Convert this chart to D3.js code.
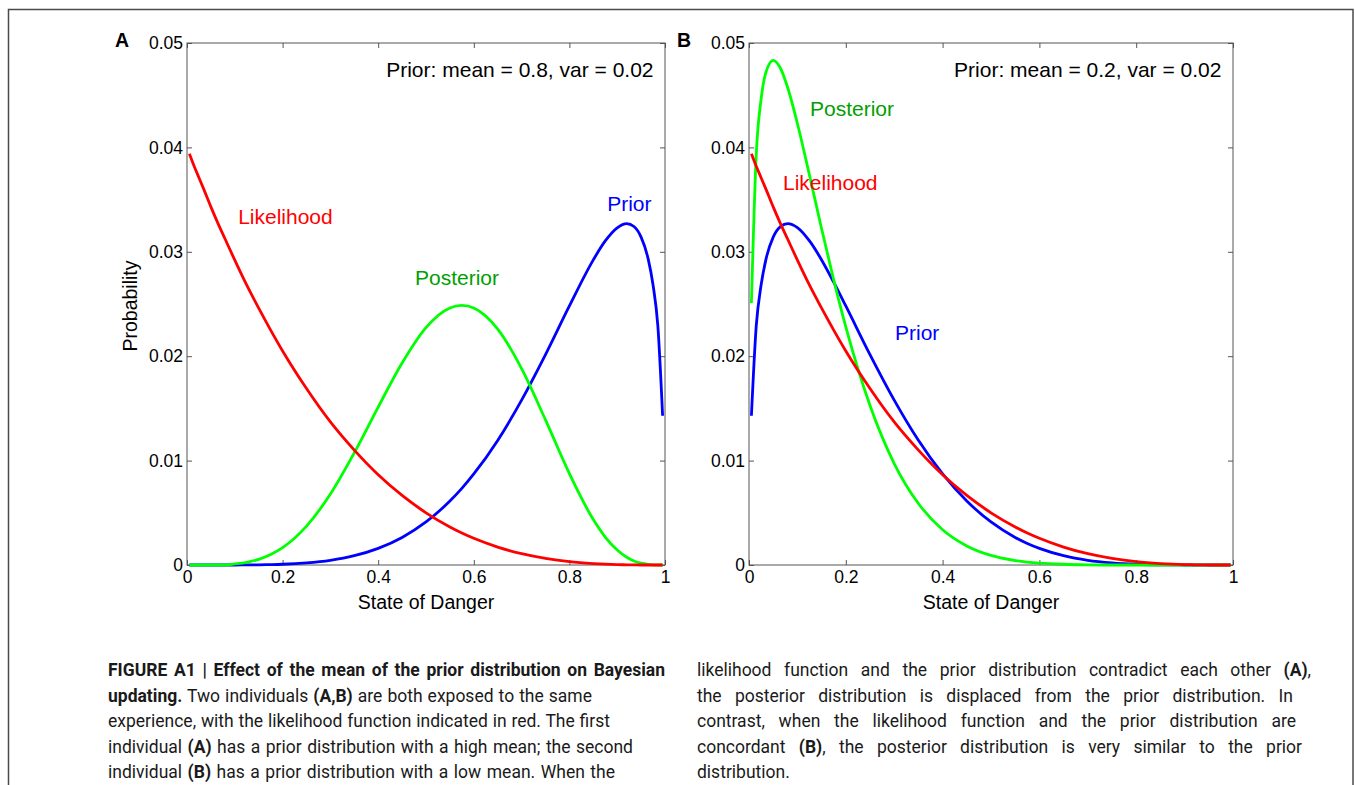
<!DOCTYPE html>
<html><head><meta charset="utf-8">
<script src="https://cdn.jsdelivr.net/npm/d3@7"></script>
<style>
html,body{margin:0;padding:0;background:#fff;}
svg{display:block;}
text{white-space:pre;}
</style></head>
<body>
<svg id="c" width="1355" height="785"></svg>
<script>
// ---- data ----
const xGrid = [0.005, 0.015, 0.025, 0.035, 0.05, 0.065, 0.08, 0.1, 0.125, 0.15, 0.175, 0.2, 0.25, 0.3, 0.35, 0.4, 0.45, 0.5, 0.55, 0.575, 0.6, 0.65, 0.7, 0.75, 0.8, 0.85, 0.875, 0.9, 0.92, 0.935, 0.95, 0.965, 0.975, 0.985, 0.995];

const likelihood = [0.0394, 0.0382, 0.0371, 0.0360, 0.0343, 0.0327, 0.0312, 0.0292, 0.0268, 0.0246, 0.0225, 0.0205, 0.0169, 0.0137, 0.0110, 0.00864, 0.00666, 0.0050, 0.00365, 0.00307, 0.00256, 0.00172, 0.00108, 0.00063, 0.00032, 0.00014, 0.00008, 0.00004, 0.00002, 0.00001, 0, 0, 0, 0, 0];

const priorA = [0, 0, 0, 0, 0, 0, 0, 0, 0.00001, 0.00002, 0.00004, 0.00007, 0.0002, 0.00045, 0.00089, 0.00159, 0.00264, 0.00412, 0.00613, 0.00734, 0.00872, 0.01193, 0.01579, 0.02015, 0.02481, 0.02923, 0.03104, 0.0323, 0.0327, 0.03242, 0.0314, 0.02927, 0.02682, 0.02292, 0.0143];

const posteriorA = [0, 0, 0, 0, 0, 0, 0, 0.0001, 0.00026, 0.00054, 0.0010, 0.00166, 0.00372, 0.0068, 0.01075, 0.01513, 0.01935, 0.02274, 0.02462, 0.02486, 0.02461, 0.02259, 0.01881, 0.0139, 0.00876, 0.00435, 0.00268, 0.00143, 0.00074, 0.00039, 0.00017, 0.00006, 0.00002, 0, 0];

const priorB = [0.0143, 0.02292, 0.02682, 0.02927, 0.03141, 0.03242, 0.0327, 0.03232, 0.03104, 0.02922, 0.02709, 0.02481, 0.02015, 0.01579, 0.01194, 0.00872, 0.00613, 0.00412, 0.00264, 0.00206, 0.00159, 0.00089, 0.00045, 0.0002, 0.00007, 0.00002, 0.00001, 0, 0, 0, 0, 0, 0, 0, 0];

const posteriorB = [0.0251, 0.03933, 0.04462, 0.0472, 0.04834, 0.04758, 0.04571, 0.04229, 0.03733, 0.03221, 0.02731, 0.0228, 0.01527, 0.00972, 0.00589, 0.00338, 0.00183, 0.00092, 0.00043, 0.00028, 0.00018, 0.00007, 0.00002, 0, 0, 0, 0, 0, 0, 0, 0, 0, 0, 0, 0];

const xTicks = [0, 0.2, 0.4, 0.6, 0.8, 1];
const xTickLabels = ["0", "0.2", "0.4", "0.6", "0.8", "1"];
const yTicks = [0, 0.01, 0.02, 0.03, 0.04, 0.05];
const yTickLabels = ["0", "0.01", "0.02", "0.03", "0.04", "0.05"];

const captionLeft = [
  [["FIGURE A1 | Effect of the mean of the prior distribution on Bayesian", true]],
  [["updating.", true], [" Two individuals ", false], ["(A,B)", true], [" are both exposed to the same", false]],
  [["experience, with the likelihood function indicated in red. The first", false]],
  [["individual ", false], ["(A)", true], [" has a prior distribution with a high mean; the second", false]],
  [["individual ", false], ["(B)", true], [" has a prior distribution with a low mean. When the", false]]
];
const captionRight = [
  [["likelihood function and the prior distribution contradict each other ", false], ["(A)", true], [",", false]],
  [["the posterior distribution is displaced from the prior distribution. In", false]],
  [["contrast, when the likelihood function and the prior distribution are", false]],
  [["concordant ", false], ["(B)", true], [", the posterior distribution is very similar to the prior", false]],
  [["distribution.", false]]
];

// ---- layout ----
const W = 1355, H = 785;
const plotTop = 43, plotBottom = 565;
const FONT = "'Liberation Sans', Arial, Helvetica, sans-serif";
const COL = {red: "#ff0000", blue: "#0000ff", green: "#00ff00", greenText: "#00a000"};

const panels = [
  {
    letter: "A", title: "Prior: mean = 0.8, var = 0.02", left: 187, right: 665,
    prior: priorA, posterior: posteriorA, ylabel: true,
    labels: [
      {t: "Likelihood", x: 0.107, y: 0.03266, c: COL.red},
      {t: "Posterior", x: 0.477, y: 0.02682, c: COL.greenText},
      {t: "Prior", x: 0.879, y: 0.03391, c: COL.blue}
    ]
  },
  {
    letter: "B", title: "Prior: mean = 0.2, var = 0.02", left: 749, right: 1233,
    prior: priorB, posterior: posteriorB, ylabel: false,
    labels: [
      {t: "Posterior", x: 0.126, y: 0.0430, c: COL.greenText},
      {t: "Likelihood", x: 0.0702, y: 0.03592, c: COL.red},
      {t: "Prior", x: 0.3017, y: 0.02155, c: COL.blue}
    ]
  }
];

const svg = d3.select("#c");
svg.append("rect").attr("width", W).attr("height", H).attr("fill", "#fff");
svg.append("rect").attr("x", 8.5).attr("y", 9.5).attr("width", 1344.5).attr("height", 800)
  .attr("fill", "none").attr("stroke", "#4a4a4a").attr("stroke-width", 1.5);

const y = d3.scaleLinear().domain([0, 0.05]).range([plotBottom, plotTop]);

panels.forEach(p => {
  const x = d3.scaleLinear().domain([0, 1]).range([p.left, p.right]);
  const g = svg.append("g");

  const styleAxis = sel => {
    sel.select(".domain").remove();
    sel.selectAll(".tick line").attr("stroke", "#555").attr("stroke-width", 1);
    sel.selectAll(".tick text").attr("fill", "#000").style("font-family", FONT).style("font-size", "17.5px");
  };
  g.append("g").attr("transform", `translate(0,${plotBottom})`)
    .call(d3.axisBottom(x).tickValues(xTicks).tickFormat((d, i) => xTickLabels[i]).tickSizeInner(-5).tickSizeOuter(0).tickPadding(6))
    .call(styleAxis);
  g.append("g").attr("transform", `translate(0,${plotTop})`)
    .call(d3.axisTop(x).tickValues(xTicks).tickFormat("").tickSizeInner(-5).tickSizeOuter(0))
    .call(styleAxis);
  g.append("g").attr("transform", `translate(${p.left},0)`)
    .call(d3.axisLeft(y).tickValues(yTicks).tickFormat((d, i) => yTickLabels[i]).tickSizeInner(-5).tickSizeOuter(0).tickPadding(4))
    .call(styleAxis);
  g.append("g").attr("transform", `translate(${p.right},0)`)
    .call(d3.axisRight(y).tickValues(yTicks).tickFormat("").tickSizeInner(-5).tickSizeOuter(0))
    .call(styleAxis);

  g.append("rect").attr("x", p.left).attr("y", plotTop)
    .attr("width", p.right - p.left).attr("height", plotBottom - plotTop)
    .attr("fill", "none").attr("stroke", "#555").attr("stroke-width", 1);

  const line = d3.line().x((d, i) => x(xGrid[i])).y(d => y(d)).curve(d3.curveMonotoneX);
  [[p.prior, COL.blue], [p.posterior, COL.green], [likelihood, COL.red]].forEach(([vals, c]) => {
    g.append("path").datum(vals).attr("d", line).attr("fill", "none")
      .attr("stroke", c).attr("stroke-width", 2.8).attr("stroke-linejoin", "round");
  });

  p.labels.forEach(l => {
    g.append("text").attr("x", x(l.x)).attr("y", y(l.y)).attr("fill", l.c)
      .style("font-family", FONT).style("font-size", "21px").text(l.t);
  });
  g.append("text").attr("x", x(0.976)).attr("y", y(0.04674)).attr("text-anchor", "end")
    .attr("fill", "#000").style("font-family", FONT).style("font-size", "21px").text(p.title);

  g.append("text").attr("x", p.left - 72).attr("y", 47).attr("fill", "#000")
    .style("font-family", FONT).style("font-weight", "bold").style("font-size", "19.5px").text(p.letter);

  g.append("text").attr("x", (p.left + p.right) / 2).attr("y", 609).attr("text-anchor", "middle")
    .attr("fill", "#000").style("font-family", FONT).style("font-size", "19.5px").text("State of Danger");
  if (p.ylabel) {
    g.append("text").attr("transform", `translate(137,306) rotate(-90)`).attr("text-anchor", "middle")
      .attr("fill", "#000").style("font-family", FONT).style("font-size", "19.5px").text("Probability");
  }
});

// caption (justified through word spacing)
const CFONT = "Roboto, 'Liberation Sans', Arial, sans-serif";
const baselines = [676, 702, 727, 753, 778];
function drawCaption(lines, x0, widths) {
  lines.forEach((segs, i) => {
    const t = svg.append("text").attr("x", x0).attr("y", baselines[i]).attr("fill", "#1a1a1a")
      .style("font-family", CFONT).style("font-size", "17.5px");
    segs.forEach(([s, b]) => t.append("tspan").style("font-weight", b ? "bold" : "normal").text(s));
    if (widths[i]) {
      const full = segs.map(s => s[0]).join("");
      const spaces = (full.match(/ /g) || []).length;
      const natural = t.node().getComputedTextLength();
      const ws = (widths[i] - natural) / Math.max(1, spaces);
      if (ws > 0) t.style("word-spacing", ws + "px");
      else t.attr("textLength", widths[i]).attr("lengthAdjust", "spacing");
    }
  });
}
drawCaption(captionLeft, 108, [557, 484, 502, 525, 507]);
drawCaption(captionRight, 697, [614, 596, 599, 605, 0]);
</script>
</body></html>
